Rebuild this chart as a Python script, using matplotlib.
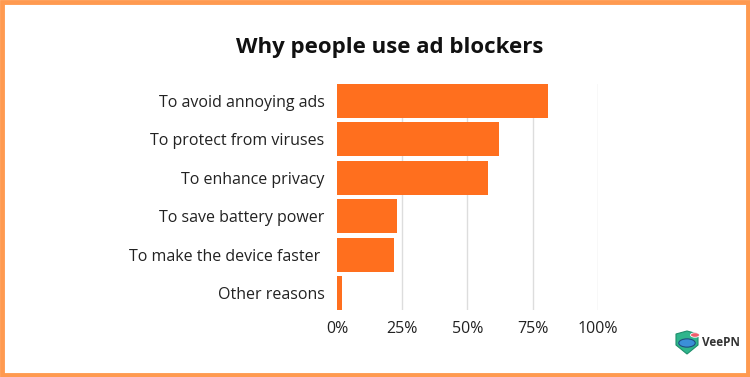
import matplotlib
matplotlib.use("Agg")
import matplotlib.pyplot as plt
from matplotlib.patches import Rectangle, Polygon, Circle
import numpy as np

reasons = ["To avoid annoying ads", "To protect from viruses", "To enhance privacy",
           "To save battery power", "To make the device faster ", "Other reasons"]
shares = [81, 62, 58, 23, 22, 2]
ticks = [0, 25, 50, 75, 100]
tick_labels = ["0%", "25%", "50%", "75%", "100%"]

plt.rcParams['font.family'] = ['Open Sans', 'DejaVu Sans']

fig = plt.figure(figsize=(7.5, 3.77), dpi=100)
ax = fig.add_axes([337 / 750, 1 - 310 / 377, 261 / 750, 226 / 377])

y_pos = np.arange(len(reasons))
ax.barh(y_pos, shares, height=0.88, color="#FF6F1E", zorder=3)
ax.set_xlim(0, 100)
ax.set_ylim(len(reasons) - 1 + 0.44, -0.44)
ax.set_yticks(y_pos)
ax.set_yticklabels(reasons, fontsize=11.5, color="#222222")
ax.set_xticks(ticks)
ax.set_xticklabels(tick_labels, fontsize=11.5, color="#222222")
ax.tick_params(axis="y", length=0, pad=9)
ax.tick_params(axis="x", length=0, pad=8)
for s in ax.spines.values():
    s.set_visible(False)
for t in ticks[1:]:
    ax.axvline(t, color="#dddddd", linewidth=1, zorder=1)

fig.text(390 / 750, 1 - 47 / 377, "Why people use ad blockers", ha="center", va="center",
         fontsize=16, fontweight="bold", color="#111111")

# orange frame
fig.patches.append(Rectangle((0.0027, 0.006), 0.9946, 0.988, transform=fig.transFigure,
                             fill=False, edgecolor="#FF9A50", linewidth=3.5))

# VeePN logo
def fx(x, y):
    return (x / 750, 1 - y / 377)
pts = [fx(x, y) for x, y in [(676, 334), (687, 331), (698, 334), (698, 345), (687, 354), (676, 345)]]
fig.patches.append(Polygon(pts, closed=True, transform=fig.transFigure,
                           facecolor="#2FB58C", edgecolor="#1E8F6C", linewidth=0.8))
fig.patches.append(Circle(fx(687, 343), 0.011, transform=fig.transFigure,
                          facecolor="#3B8FD8", edgecolor="#1f4f80", linewidth=0.8))
fig.patches.append(Circle(fx(695, 335), 0.006, transform=fig.transFigure,
                          facecolor="#F25C6B", edgecolor="white", linewidth=0.6))
fig.text(702 / 750, 1 - 343 / 377, "VeePN", ha="left", va="center", fontsize=8.5,
         fontweight="bold", color="#333333")

fig.savefig("out.png", dpi=100)
